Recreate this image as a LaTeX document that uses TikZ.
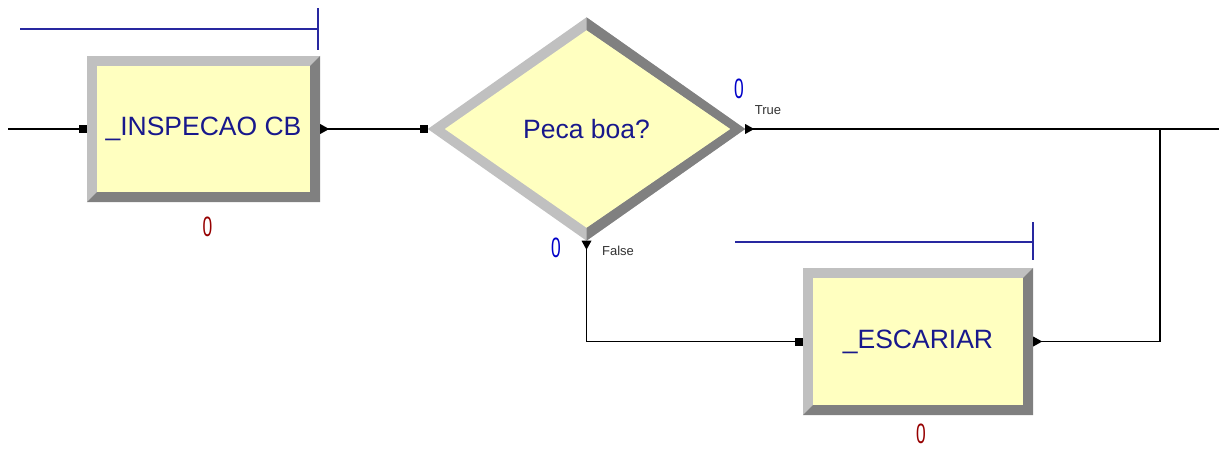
\documentclass[tikz,border=0pt]{standalone}
\usepackage{fontspec}
\setmainfont{Liberation Sans}
\usetikzlibrary{arrows.meta,calc}
\definecolor{yel}{RGB}{255,255,192}
\definecolor{lgray}{RGB}{192,192,192}
\definecolor{dgray}{RGB}{128,128,128}
\definecolor{navy}{RGB}{24,24,140}
\definecolor{qblue}{RGB}{40,40,160}
\definecolor{cred}{RGB}{150,0,0}
\definecolor{cblue}{RGB}{0,0,200}
\definecolor{lbl}{RGB}{50,50,50}
\pgfdeclarelayer{bg}
\pgfsetlayers{bg,main}
\newcommand{\bevelbox}[2]{%
 \fill[lgray] (#1.north west) rectangle (#1.south east);
 \fill[dgray] (#1.north east) -- (#1.south east) -- (#1.south west) -- ([shift={(#2,-#2)}]#1.south west) -- ([shift={(-#2,-#2)}]#1.south east) -- ([shift={(-#2,#2)}]#1.north east) -- cycle;
 \fill[yel] ([shift={(#2,#2)}]#1.north west) rectangle ([shift={(-#2,-#2)}]#1.south east);
}
\newcommand{\exitright}[1]{\fill ([yshift=5pt]#1) -- ([yshift=-5pt]#1) -- ([xshift=9pt]#1) -- cycle;}
\newcommand{\exitdown}[1]{\fill ([xshift=-5pt]#1) -- ([xshift=5pt]#1) -- ([yshift=-9pt]#1) -- cycle;}
\begin{document}
\begin{tikzpicture}[x=1pt,y=-1pt,
  module/.style={rectangle, inner sep=0pt, font=\fontsize{26.5}{30}\selectfont, text=navy},
  counter/.style={inner sep=0pt, font=\fontsize{28}{30}\selectfont},
  branchlbl/.style={inner sep=0pt, font=\fontsize{13}{15}\selectfont, text=lbl},
  conn/.style={draw=black, line width=1.3pt},
  entry/.style={-{Square[length=8pt,width=8pt]}},
  queue/.style={draw=qblue, line width=1.4pt}]
\useasboundingbox (0,0) rectangle (1219,448);
% modules
\node[module, minimum width=233pt, minimum height=146pt] (insp) at (203.5,129) {\_INSPECAO CB};
\node[module, minimum width=317pt, minimum height=223pt] (dec) at (586.5,129) {Peca boa?};
\node[module, minimum width=230pt, minimum height=147pt] (esc) at (918,341.5) {\_ESCARIAR};
\begin{pgfonlayer}{bg}
  \bevelbox{insp}{10}
  \bevelbox{esc}{10}
  \fill[lgray] (dec.west) -- (dec.north) -- (dec.east) -- (dec.south) -- cycle;
  \fill[dgray] (dec.north) -- (dec.east) -- (dec.south) -- ([yshift=13pt]dec.south) -- ([xshift=-15pt]dec.east) -- ([yshift=-13pt]dec.north) -- cycle;
  \fill[yel] ([xshift=17pt]dec.west) -- ([yshift=-13pt]dec.north) -- ([xshift=-15pt]dec.east) -- ([yshift=13pt]dec.south) -- cycle;
\end{pgfonlayer}
% counters and labels
\node[counter, text=cred] (c1) at (207.5,226.5) {\scalebox{0.62}[1]{0}};
\node[counter, text=cred] (c2) at (921,433.5) {\scalebox{0.62}[1]{0}};
\node[counter, text=cblue] (ct) at (739,88.5) {\scalebox{0.62}[1]{0}};
\node[counter, text=cblue] (cf) at (556,247.5) {\scalebox{0.62}[1]{0}};
\node[branchlbl] (tl) at (768,110) {True};
\node[branchlbl] (fl) at (618,251) {False};
% queues
\coordinate (q1a) at (20,29); \coordinate (q1b) at (318,29);
\coordinate (q1t) at (318,8); \coordinate (q1d) at (318,50);
\draw[queue] (q1a) -- (q1b); \draw[queue] (q1t) -- (q1d);
\coordinate (q2a) at (735,242); \coordinate (q2b) at (1033,242);
\coordinate (q2t) at (1033,222); \coordinate (q2d) at (1033,260);
\draw[queue] (q2a) -- (q2b); \draw[queue] (q2t) -- (q2d);
% connectors
\coordinate (in) at (8,129);
\coordinate (out) at (1219,129);
\coordinate (j) at (1160,129);
\draw[conn, entry] (in) -- (insp.west);
\draw[conn, entry] (insp.east) -- (dec.west);
\draw[conn] (dec.east) -- (out);
\draw[conn, entry] (dec.south) |- (esc.west);
\draw[conn] (esc.east) -| (j);
% exit markers
\exitright{insp.east}
\exitright{dec.east}
\exitright{esc.east}
\exitdown{dec.south}
\end{tikzpicture}
\end{document}
